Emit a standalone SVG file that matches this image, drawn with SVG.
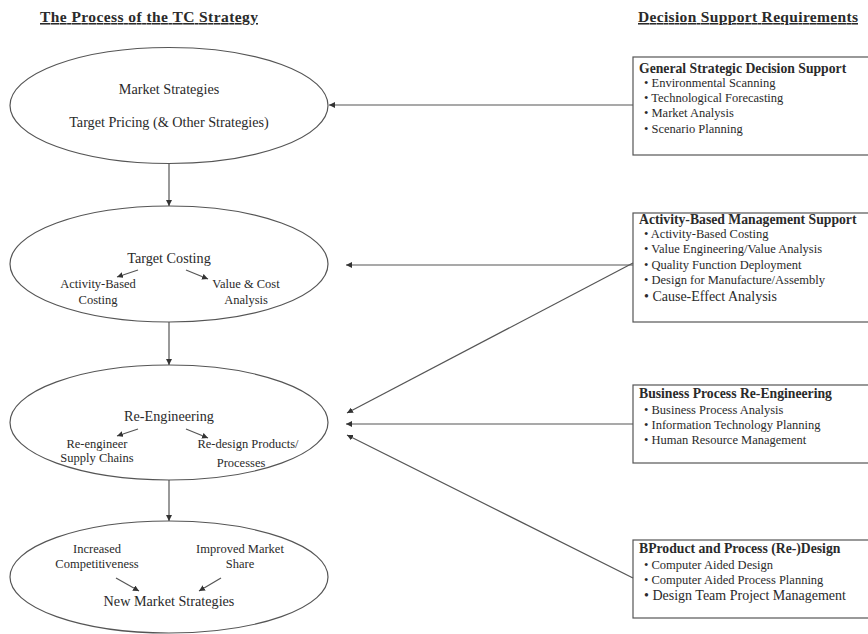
<svg xmlns="http://www.w3.org/2000/svg" width="868" height="634" viewBox="0 0 868 634">
<style>
text{font-family:"Liberation Serif","Times New Roman",serif;fill:#2a2a2a}
.h{font-size:15.5px;font-weight:bold;text-decoration:underline}
.e{font-size:14.2px;text-anchor:middle}
.s{font-size:12.5px;text-anchor:middle}
.bt{font-size:13.7px;font-weight:bold}
.b{font-size:12.5px}
.node{fill:#fff;stroke:#555;stroke-width:1.2}
.c{stroke:#555;stroke-width:1.2;fill:none}
</style>
<defs>
<marker id="ah" viewBox="0 0 10 10" refX="10" refY="5" markerWidth="6" markerHeight="6" markerUnits="userSpaceOnUse" orient="auto">
<path d="M0,0 L10,5 L0,10 z" fill="#333"/>
</marker>
</defs>
<rect width="868" height="634" fill="#fff"/>
<text class="h" x="40" y="22" textLength="218">The Process of the TC Strategy</text>
<text class="h" x="638" y="22" textLength="220">Decision Support Requirements</text>

<g id="e1">
<ellipse class="node" cx="169" cy="105.5" rx="159" ry="58"/>
<text class="e" x="169" y="94">Market Strategies</text>
<text class="e" x="169" y="127">Target Pricing (&amp; Other Strategies)</text>
</g>
<g id="e2">
<ellipse class="node" cx="169" cy="264" rx="159" ry="58"/>
<text class="e" x="169" y="263">Target Costing</text>
<text class="s" x="98" y="288">Activity-Based</text>
<text class="s" x="98" y="304">Costing</text>
<text class="s" x="246" y="288">Value &amp; Cost</text>
<text class="s" x="246" y="304">Analysis</text>
</g>
<g id="e3">
<ellipse class="node" cx="169" cy="422.5" rx="159" ry="57.5"/>
<text class="e" x="169" y="421">Re-Engineering</text>
<text class="s" x="97" y="448">Re-engineer</text>
<text class="s" x="97" y="462">Supply Chains</text>
<text class="s" x="248" y="448">Re-design Products/</text>
<text class="s" x="241" y="467">Processes</text>
</g>
<g id="e4">
<ellipse class="node" cx="169" cy="577" rx="159" ry="56"/>
<text class="s" x="97" y="553">Increased</text>
<text class="s" x="97" y="568">Competitiveness</text>
<text class="s" x="240" y="553">Improved Market</text>
<text class="s" x="240" y="568">Share</text>
<text class="e" x="169" y="606">New Market Strategies</text>
</g>

<g id="b1">
<rect class="node" x="633" y="57" width="240" height="98"/>
<text class="bt" x="639" y="73">General Strategic Decision Support</text>
<text class="b" x="644" y="87">• Environmental Scanning</text>
<text class="b" x="644" y="102">• Technological Forecasting</text>
<text class="b" x="644" y="117">• Market Analysis</text>
<text class="b" x="644" y="133">• Scenario Planning</text>
</g>
<g id="b2">
<rect class="node" x="633" y="213" width="240" height="109"/>
<text class="bt" x="639" y="224">Activity-Based Management Support</text>
<text class="b" x="644" y="238">• Activity-Based Costing</text>
<text class="b" x="644" y="253">• Value Engineering/Value Analysis</text>
<text class="b" x="644" y="269">• Quality Function Deployment</text>
<text class="b" x="644" y="284">• Design for Manufacture/Assembly</text>
<text class="b" x="644" y="301" style="font-size:14px">• Cause-Effect Analysis</text>
</g>
<g id="b3">
<rect class="node" x="633" y="385" width="240" height="78"/>
<text class="bt" x="639" y="398">Business Process Re-Engineering</text>
<text class="b" x="644" y="414">• Business Process Analysis</text>
<text class="b" x="644" y="429">• Information Technology Planning</text>
<text class="b" x="644" y="444">• Human Resource Management</text>
</g>
<g id="b4">
<rect class="node" x="633" y="540" width="240" height="78"/>
<text class="bt" x="639" y="553">BProduct and Process (Re-)Design</text>
<text class="b" x="644" y="569">• Computer Aided Design</text>
<text class="b" x="644" y="584">• Computer Aided Process Planning</text>
<text class="b" x="644" y="600" style="font-size:14px">• Design Team Project Management</text>
</g>

<g id="connectors">
<line class="c" x1="169" y1="163.5" x2="169" y2="206" marker-end="url(#ah)"/>
<line class="c" x1="169" y1="322" x2="169" y2="365" marker-end="url(#ah)"/>
<line class="c" x1="169" y1="480" x2="169" y2="521" marker-end="url(#ah)"/>
<line class="c" x1="633" y1="105" x2="329" y2="105" marker-end="url(#ah)"/>
<line class="c" x1="633" y1="265" x2="346" y2="265" marker-end="url(#ah)"/>
<line class="c" x1="633" y1="263" x2="347" y2="413" marker-end="url(#ah)"/>
<line class="c" x1="633" y1="424" x2="346" y2="424" marker-end="url(#ah)"/>
<line class="c" x1="633" y1="578" x2="347" y2="435" marker-end="url(#ah)"/>
<line class="c" x1="138" y1="270" x2="117" y2="277" marker-end="url(#ah)"/>
<line class="c" x1="186" y1="270" x2="208" y2="279" marker-end="url(#ah)"/>
<line class="c" x1="138" y1="429" x2="117" y2="436" marker-end="url(#ah)"/>
<line class="c" x1="186" y1="429" x2="208" y2="438" marker-end="url(#ah)"/>
<line class="c" x1="116" y1="578" x2="139" y2="591" marker-end="url(#ah)"/>
<line class="c" x1="221" y1="578" x2="199" y2="591" marker-end="url(#ah)"/>
</g>
</svg>
